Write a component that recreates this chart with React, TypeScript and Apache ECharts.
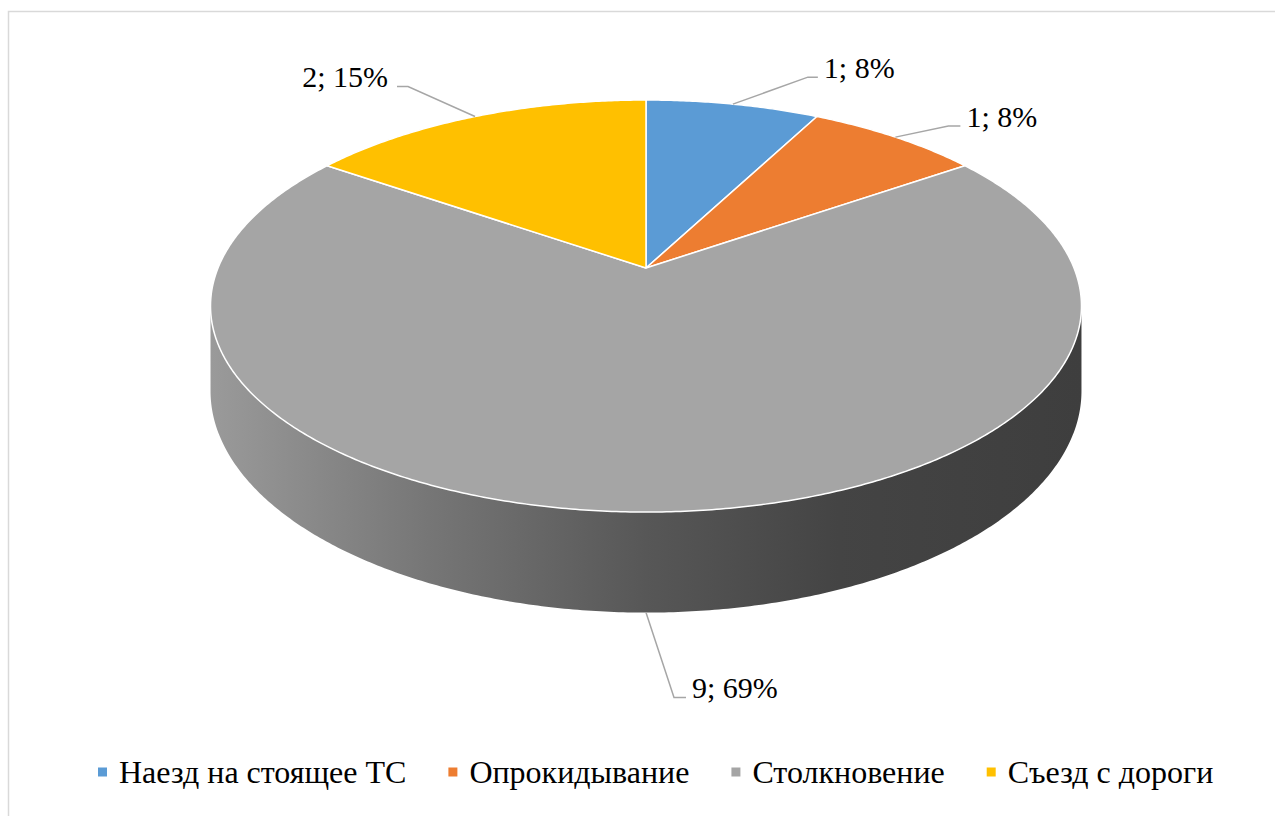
import React, { useEffect, useRef } from "react";
import * as echarts from "echarts";

const CATEGORIES = ["Наезд на стоящее ТС", "Опрокидывание", "Столкновение", "Съезд с дороги"];
const VALUES = [1, 1, 9, 2];
const COLORS = ["#5B9BD5", "#ED7D31", "#A5A5A5", "#FFC000"];

// projection of the tilted disc (layout constants)
const CX = 646;
const CY = 268;
const RX = 428;
const RY = 199;
const PERSP = 0.1845;
const DEPTH = 82;

// leader line layout relative to anchor: bend offset and tail length
const LABEL_LAYOUT = [
  { bend: [75, -27], tail: 10 },
  { bend: [53, -11], tail: 12 },
  { bend: [28, 85], tail: 12 },
  { bend: [-67, -30], tail: -11 },
];

const SERIF = "Liberation Serif";

function project(phi: number, drop = 0): number[] {
  const u = Math.sin(phi);
  const v = -Math.cos(phi);
  const w = 1 - PERSP * v;
  return [CX + (RX * u) / w, CY + (RY * v) / w + drop / w];
}

function arc(a0: number, a1: number, drop = 0): number[][] {
  const pts: number[][] = [];
  const n = Math.max(2, Math.ceil(Math.abs(a1 - a0) / (Math.PI / 360)));
  for (let k = 0; k <= n; k++) {
    pts.push(project(a0 + ((a1 - a0) * k) / n, drop));
  }
  return pts;
}

const SIDE_GRADIENT = {
  type: "linear",
  x: 211,
  y: 0,
  x2: 1082,
  y2: 0,
  global: true,
  colorStops: [
    { offset: 0, color: "#9a9a9a" },
    { offset: 0.25, color: "#767676" },
    { offset: 0.5, color: "#575757" },
    { offset: 0.72, color: "#444444" },
    { offset: 1, color: "#3e3e3e" },
  ],
};

export default function App() {
  const ref = useRef<HTMLDivElement>(null);

  useEffect(() => {
    if (!ref.current) return;
    const chart = echarts.init(ref.current, undefined, { renderer: "svg" });
    const total = VALUES.reduce((a, b) => a + b, 0);
    const visStart = Math.acos(-PERSP);
    const visEnd = 2 * Math.PI - visStart;

    const option: any = {
      animation: false,
      backgroundColor: "#ffffff",
      graphic: [
        {
          type: "rect",
          silent: true,
          shape: { x: 8.5, y: 11.5, width: 1400, height: 900 },
          style: { fill: "none", stroke: "#d9d9d9", lineWidth: 1.5 },
        },
      ],
      legend: {
        data: CATEGORIES,
        left: 98,
        top: 756,
        padding: 0,
        icon: "rect",
        itemWidth: 9,
        itemHeight: 9,
        itemGap: 42,
        selectedMode: false,
        textStyle: {
          fontSize: 32,
          fontFamily: SERIF,
          color: "#000",
          padding: [0, 0, 0, 7],
        },
      },
      series: [
        {
          type: "pie",
          silent: true,
          center: [-200, -200],
          radius: [0, 1],
          label: { show: false },
          labelLine: { show: false },
          data: VALUES.map((v, i) => ({
            name: CATEGORIES[i],
            value: v,
            itemStyle: { color: COLORS[i] },
          })),
        },
        {
          type: "custom",
          coordinateSystem: "none",
          silent: true,
          data: VALUES.map((v, i) => ({ name: CATEGORIES[i], value: v })),
          renderItem: (params: any, api: any) => {
            const i = params.dataIndex;
            const val = api.value(0) as number;
            let before = 0;
            for (let k = 0; k < i; k++) before += VALUES[k];
            const a0 = (before / total) * 2 * Math.PI;
            const a1 = ((before + val) / total) * 2 * Math.PI;
            const mid = (a0 + a1) / 2;
            const children: any[] = [];

            // side wall (visible front part only)
            const s = Math.max(a0, visStart);
            const e = Math.min(a1, visEnd);
            if (e > s) {
              const top = arc(s, e);
              const bottom = arc(e, s, DEPTH);
              children.push({
                type: "polygon",
                z2: 0,
                shape: { points: top.concat(bottom) },
                style: { fill: SIDE_GRADIENT, stroke: null },
              });
            }

            // top face
            children.push({
              type: "polygon",
              z2: 1,
              shape: { points: [[CX, CY]].concat(arc(a0, a1)) },
              style: {
                fill: COLORS[i],
                stroke: "#ffffff",
                lineWidth: 1.5,
                lineJoin: "round",
              },
            });

            // label with leader line
            const front = Math.cos(mid) < -0.5;
            const anchor = project(mid, front ? DEPTH : 0);
            const lay = LABEL_LAYOUT[i];
            const bend = [anchor[0] + lay.bend[0], anchor[1] + lay.bend[1]];
            const end = [bend[0] + lay.tail, bend[1]];
            children.push({
              type: "polyline",
              z2: 2,
              shape: { points: [anchor, bend, end] },
              style: { stroke: "#a6a6a6", lineWidth: 1.5, fill: null },
            });
            const pct = Math.round((val / total) * 100);
            const right = lay.tail >= 0;
            children.push({
              type: "text",
              z2: 3,
              style: {
                text: `${val}; ${pct}%`,
                x: right ? end[0] + 6 : end[0] - 9,
                y: end[1] - 10,
                align: right ? "left" : "right",
                verticalAlign: "middle",
                fontSize: 30,
                fontFamily: SERIF,
                fill: "#000",
              },
            });

            return { type: "group", children };
          },
        },
      ],
    };

    chart.setOption(option);
    return () => chart.dispose();
  }, []);

  return (
    <div
      ref={ref}
      style={{ position: "absolute", left: 0, top: 0, width: 1275, height: 816 }}
    />
  );
}
